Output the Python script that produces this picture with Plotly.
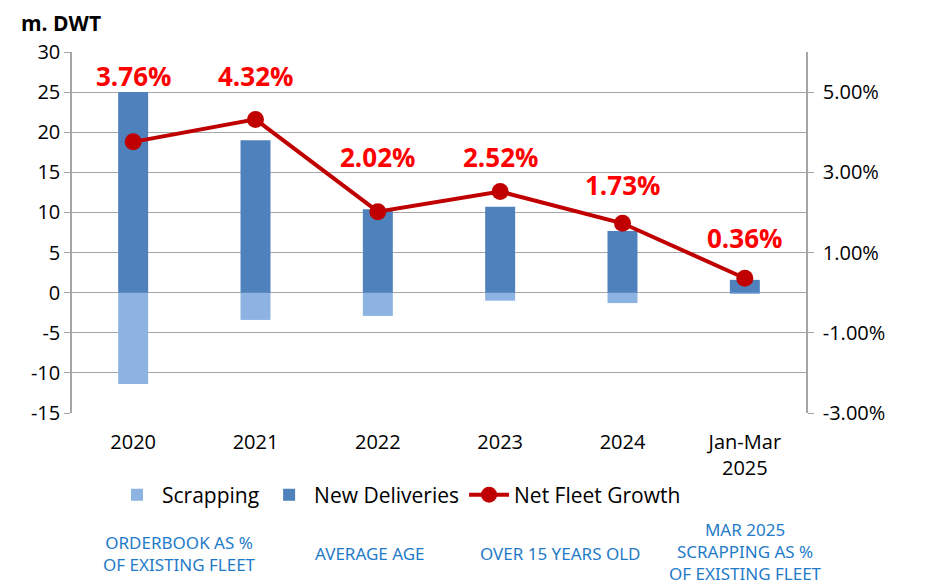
import plotly.graph_objects as go

categories = ["2020", "2021", "2022", "2023", "2024", "Jan-Mar<br>2025"]
new_deliveries = [25.0, 19.0, 10.4, 10.7, 7.7, 1.6]
scrapping = [-11.4, -3.4, -2.9, -1.0, -1.3, -0.1]
net_fleet_growth = [3.76, 4.32, 2.02, 2.52, 1.73, 0.36]
growth_labels = ["3.76%", "4.32%", "2.02%", "2.52%", "1.73%", "0.36%"]
label_shift = [66, 43, 55, 35, 38, 40]

left_ticks = [-15, -10, -5, 0, 5, 10, 15, 20, 25, 30]
left_ticktext = ["-15", "-10", "-5", "0", "5", "10", "15", "20", "25", "30"]
right_ticks = [-3, -1, 1, 3, 5]
right_ticktext = ["-3.00%", "-1.00%", "1.00%", "3.00%", "5.00%"]

bottom_notes = [
    ("ORDERBOOK AS %<br>OF EXISTING FLEET", 179, 553),
    ("AVERAGE AGE", 370, 553),
    ("OVER 15 YEARS OLD", 560, 553),
    ("MAR 2025<br>SCRAPPING AS %<br>OF EXISTING FLEET", 745, 551),
]

FONT = "Open Sans, Noto Sans, sans-serif"
GRID = "#A6A6A6"
x = list(range(len(categories)))

# page body has an 8px margin: the figure is sized/placed to compensate
OFF = 8
W, H = 928 - OFF, 586 - OFF
L, T = 72 - OFF, 52 - OFF
R = W - (806 - OFF)
B = H - (413 - OFF)
pw, ph = W - L - R, H - T - B


def px2paper(px, py):
    return (px - OFF - L) / pw, (H - B - (py - OFF)) / ph


fig = go.Figure()
fig.add_trace(go.Bar(x=x, y=scrapping, name="Scrapping", marker_color="#8DB3E2",
                     width=0.245, marker_line_width=0))
fig.add_trace(go.Bar(x=x, y=new_deliveries, name="New Deliveries", marker_color="#4F81BD",
                     width=0.245, marker_line_width=0))
fig.add_trace(go.Scatter(x=x, y=net_fleet_growth, name="Net Fleet Growth", yaxis="y2",
                         mode="lines+markers", line=dict(color="#C00000", width=4),
                         marker=dict(color="#C00000", size=17)))

for xi, v, lab, sh in zip(x, net_fleet_growth, growth_labels, label_shift):
    fig.add_annotation(x=xi, y=v, xref="x", yref="y2", text=f"<b>{lab}</b>",
                       showarrow=False, yshift=sh,
                       font=dict(family=FONT, size=26, color="#FF0000"))

for text, px, py in bottom_notes:
    ax, ay = px2paper(px, py)
    fig.add_annotation(x=ax, y=ay, xref="paper", yref="paper",
                       text=text, showarrow=False, xanchor="center", yanchor="middle",
                       borderpad=0,
                       font=dict(family="Noto Sans, sans-serif", size=17, color="#1F7BC8"))

tx, ty = px2paper(20, 8)
fig.add_annotation(x=tx, y=ty, xref="paper", yref="paper",
                   text="<b>m. DWT</b>", showarrow=False, xanchor="left", yanchor="top",
                   borderpad=0,
                   font=dict(family=FONT, size=21, color="black"))

lx, ly = px2paper(112, 495)
fig.update_layout(
    width=W, height=H,
    margin=dict(l=L, r=R, t=T, b=B),
    paper_bgcolor="white", plot_bgcolor="white",
    barmode="overlay",
    showlegend=True,
    legend=dict(orientation="h", x=lx, y=ly, xanchor="left", yanchor="middle",
                font=dict(family=FONT, size=21, color="black"),
                itemwidth=40, traceorder="normal"),
    xaxis=dict(range=[-0.5, 5.5], tickvals=x, ticktext=categories,
               showgrid=False, zeroline=False, showline=False, ticks="",
               ticklabelstandoff=15,
               tickfont=dict(family=FONT, size=20, color="black")),
    xaxis2=dict(overlaying="x", anchor="free", position=1 / 3, range=[-0.5, 5.5],
                tickvals=[i - 0.5 for i in range(len(categories) + 1)],
                showticklabels=False, ticks="outside", ticklen=6, tickcolor=GRID,
                showgrid=False, zeroline=False, showline=False, side="bottom"),
    yaxis=dict(range=[-15, 30], tickvals=left_ticks, ticktext=left_ticktext,
               showgrid=True, gridcolor=GRID, gridwidth=1, zeroline=False,
               showline=True, linecolor=GRID, linewidth=1.5,
               ticks="outside", ticklen=6, tickcolor=GRID,
               tickfont=dict(family=FONT, size=20, color="black")),
    yaxis2=dict(overlaying="y", side="right", range=[-3, 6], tickvals=right_ticks,
                ticktext=right_ticktext, showgrid=False, zeroline=False,
                showline=True, linecolor=GRID, linewidth=1.5,
                ticks="outside", ticklen=6, tickcolor=GRID, ticklabelstandoff=5,
                tickfont=dict(family=FONT, size=20, color="black")),
)

fig.write_html("out.html")
